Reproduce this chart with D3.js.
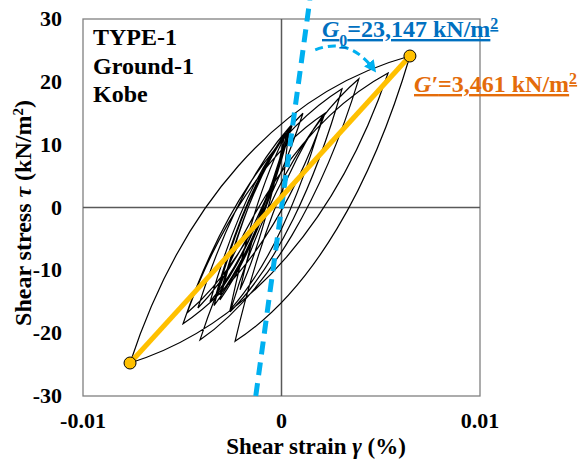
<!DOCTYPE html>
<html>
<head>
<meta charset="utf-8">
<script src="https://cdn.jsdelivr.net/npm/d3@7"></script>
<style>
	html, body { margin: 0; padding: 0; background: #fff; }
	svg text { font-family: "Times New Roman", "Liberation Serif", serif; font-weight: bold; }
</style>
</head>
<body>
<svg id="chart" width="582" height="459"></svg>
<script>
// -------------------------
// Data
// -------------------------
const xTicks = [-0.01, 0, 0.01];
const yTicks = [-30, -20, -10, 0, 10, 20, 30];

// turning points of the stress-strain history, in order
const turnStrain = [0, 0.00038, -0.0031, 0.00048, -0.0034, 0.00043, -0.0036, 0.00053, -0.00421,
	0.00108, -0.00476, 0.00219, -0.00496, 0.00305, -0.00259, 0.0039, -0.00411, 0.00537, -0.00763,
	0.00647, -0.00234, 0.00209, -0.00259, 0.00033, -0.00335, 0.00043, -0.0031, 0.00018, -0.00209,
	-0.00033];
const turnStress = [0, 12.2, -13.9, 12.9, -15.6, 12.6, -15.0, 13.0, -16.0,
	15.0, -16.8, 15.0, -18.5, 18.9, -16.6, 20.5, -21.1, 21.4, -24.75,
	24.11, -21.3, 14.7, -16.3, 12.3, -14.4, 12.6, -14.7, 11.9, -13.1,
	4.4];

// secant between the two peaks
const peakStrain = [-0.00763, 0.00647];
const peakStress = [-24.75, 24.11];

// initial shear modulus line
const g0 = 23147;
const g0Stress = [-30, 33];

// curved arrow from G0 label towards G'
const arrowStrain = [0.0017, 0.0034, 0.00462];
const arrowStress = [25.1, 27.2, 22.1];

const caseLines = ["TYPE-1", "Ground-1", "Kobe"];

// -------------------------
// Setup
// -------------------------
const svg = d3.select("#chart");
const margin = { left: 83, right: 102, top: 19, bottom: 63 };
const width = 582, height = 459;

const x = d3.scaleLinear().domain([-0.01, 0.01]).range([margin.left, width - margin.right]);
const y = d3.scaleLinear().domain([-30, 30]).range([height - margin.bottom, margin.top]);

const BLUE = "#00b0f0";
const GOLD = "#ffc000";

// frame
svg.append("rect")
	.attr("x", x(-0.01)).attr("y", y(30))
	.attr("width", x(0.01) - x(-0.01)).attr("height", y(-30) - y(30))
	.attr("fill", "none").attr("stroke", "#808080").attr("stroke-width", 1.3);

// zero lines
svg.append("line")
	.attr("x1", x(0)).attr("x2", x(0)).attr("y1", y(30)).attr("y2", y(-30))
	.attr("stroke", "#595959").attr("stroke-width", 1.5);
svg.append("line")
	.attr("x1", x(-0.01)).attr("x2", x(0.01)).attr("y1", y(0)).attr("y2", y(0))
	.attr("stroke", "#595959").attr("stroke-width", 1.5);

// --- Tick labels ---
svg.append("g").selectAll("text")
	.data(yTicks).enter().append("text")
	.attr("x", x(-0.01) - 21)
	.attr("y", (d) => y(d) + 7)
	.attr("text-anchor", "end")
	.attr("font-size", 22)
	.text((d) => d);

svg.append("g").selectAll("text")
	.data(xTicks).enter().append("text")
	.attr("x", (d) => x(d))
	.attr("y", 428)
	.attr("text-anchor", "middle")
	.attr("font-size", 22)
	.text((d) => d);

// --- Axis titles ---
const xTitle = svg.append("text")
	.attr("x", 316).attr("y", 453.5)
	.attr("text-anchor", "middle")
	.attr("font-size", 23);
xTitle.append("tspan").text("Shear strain ");
xTitle.append("tspan").attr("font-style", "italic").text("γ");
xTitle.append("tspan").text(" (%)");

const yTitle = svg.append("text")
	.attr("transform", "translate(31,213) rotate(-90)")
	.attr("text-anchor", "middle")
	.attr("font-size", 24);
yTitle.append("tspan").text("Shear stress ");
yTitle.append("tspan").attr("font-style", "italic").text("τ");
yTitle.append("tspan").text(" (kN/m");
yTitle.append("tspan").attr("font-size", 15).attr("baseline-shift", "super").text("2");
yTitle.append("tspan").text(")");

// --- Hysteresis loops (Masing-like branches between turning points) ---
// bigger branches bend more, small ones stay close to straight
const fullSpan = peakStrain[1] - peakStrain[0];
const loops = d3.path();
turnStrain.forEach((g, i) => {
	if (i === 0) { loops.moveTo(x(g), y(turnStress[i])); return; }
	const x0 = x(turnStrain[i - 1]), y0 = y(turnStress[i - 1]);
	const x1 = x(g), y1 = y(turnStress[i]);
	const dx = x1 - x0, dy = y1 - y0;
	const s = Math.min(1, 0.3 + 0.7 * Math.abs(g - turnStrain[i - 1]) / fullSpan);
	const lerp = (a, b) => a + (b - a) * s;
	loops.bezierCurveTo(
		x0 + lerp(1 / 3, 0.18) * dx, y0 + lerp(1 / 3, 0.5) * dy,
		x0 + lerp(2 / 3, 0.52) * dx, y0 + lerp(2 / 3, 0.88) * dy,
		x1, y1
	);
});
svg.append("path")
	.attr("d", loops.toString())
	.attr("fill", "none")
	.attr("stroke", "#000")
	.attr("stroke-width", 1.2)
	.attr("stroke-linejoin", "miter");

// --- G0 dashed line ---
svg.append("line")
	.attr("x1", x(g0Stress[0] / g0)).attr("y1", y(g0Stress[0]))
	.attr("x2", x(g0Stress[1] / g0)).attr("y2", y(g0Stress[1]))
	.attr("stroke", BLUE).attr("stroke-width", 5)
	.attr("stroke-dasharray", "13,8");

// --- Secant G' line and end points ---
svg.append("line")
	.attr("x1", x(peakStrain[0])).attr("y1", y(peakStress[0]))
	.attr("x2", x(peakStrain[1])).attr("y2", y(peakStress[1]))
	.attr("stroke", GOLD).attr("stroke-width", 5);
svg.append("g").selectAll("circle")
	.data(peakStrain).enter().append("circle")
	.attr("cx", (d) => x(d))
	.attr("cy", (d, i) => y(peakStress[i]))
	.attr("r", 6)
	.attr("fill", GOLD).attr("stroke", "#000").attr("stroke-width", 1);

// --- Curved arrow ---
svg.append("defs").append("marker")
	.attr("id", "arrowhead")
	.attr("viewBox", "0 -5 10 10")
	.attr("refX", 6).attr("refY", 0)
	.attr("orient", "auto")
	.attr("markerUnits", "userSpaceOnUse")
	.attr("markerWidth", 12).attr("markerHeight", 12)
	.append("path")
	.attr("d", "M0,-5L10,0L0,5Z")
	.attr("fill", BLUE);

const arc = d3.path();
arc.moveTo(x(arrowStrain[0]), y(arrowStress[0]));
arc.quadraticCurveTo(x(arrowStrain[1]), y(arrowStress[1]), x(arrowStrain[2]), y(arrowStress[2]));
svg.append("path")
	.attr("d", arc.toString())
	.attr("fill", "none")
	.attr("stroke", BLUE).attr("stroke-width", 3)
	.attr("stroke-dasharray", "8,5")
	.attr("marker-end", "url(#arrowhead)");

// --- Annotations ---
svg.append("g").selectAll("text")
	.data(caseLines).enter().append("text")
	.attr("x", 93)
	.attr("y", (d, i) => 45 + i * 28.5)
	.attr("font-size", 24)
	.text((d) => d);

const g0Label = svg.append("text")
	.attr("x", 322).attr("y", 37)
	.attr("font-size", 24)
	.attr("fill", "#0070c0")
	.attr("text-decoration", "underline");
g0Label.append("tspan").attr("font-style", "italic").text("G");
g0Label.append("tspan").attr("font-size", 16).attr("baseline-shift", "sub").text("0");
g0Label.append("tspan").text("=23,147 kN/m");
g0Label.append("tspan").attr("font-size", 16).attr("baseline-shift", "super").text("2");

const gsLabel = svg.append("text")
	.attr("x", 414).attr("y", 92)
	.attr("font-size", 24)
	.attr("fill", "#e46c0a")
	.attr("text-decoration", "underline");
gsLabel.append("tspan").attr("font-style", "italic").text("G′");
gsLabel.append("tspan").text("=3,461 kN/m");
gsLabel.append("tspan").attr("font-size", 16).attr("baseline-shift", "super").text("2");
</script>
</body>
</html>
